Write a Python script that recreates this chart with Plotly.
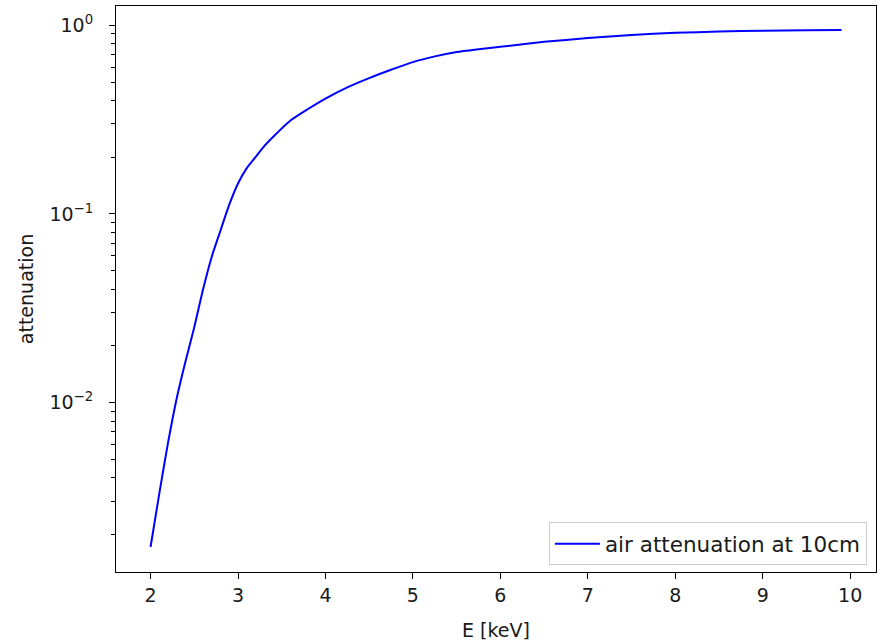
import plotly.graph_objects as go

# Photon energy [keV] and transmitted fraction through 10 cm of air
energy_kev = [2.0, 2.1, 2.2, 2.3, 2.4, 2.5, 2.6, 2.7, 2.8, 2.9, 3.0, 3.1, 3.2, 3.3,
              3.4, 3.6, 3.8, 4.0, 4.25, 4.5, 4.75, 5.0, 5.25, 5.5, 5.75, 6.0,
              6.5, 7.0, 7.5, 8.0, 8.5, 9.0, 9.5, 9.9]
attenuation = [0.00172, 0.0033, 0.00614, 0.0106, 0.0166, 0.0251, 0.0398, 0.0594,
               0.0818, 0.112, 0.145, 0.175, 0.200, 0.229, 0.256, 0.313, 0.360,
               0.409, 0.469, 0.525, 0.581, 0.638, 0.684, 0.721, 0.746, 0.769,
               0.817, 0.855, 0.888, 0.912, 0.926, 0.936, 0.940, 0.944]

x_ticks = [2, 3, 4, 5, 6, 7, 8, 9, 10]
y_major = [0.01, 0.1, 1]
y_major_text = ["10<sup>\u22122</sup>", "10<sup>\u22121</sup>", "10<sup>0</sup>"]
y_minor = [m * d for d in (0.001, 0.01, 0.1) for m in range(2, 10)]

FONT = "DejaVu Sans"
TEXT_COLOR = "#1a1a1a"

fig = go.Figure()
fig.add_trace(go.Scatter(
    x=energy_kev, y=attenuation, mode="lines",
    name="air attenuation at 10cm",
    line=dict(color="#0000ff", width=2, shape="spline", smoothing=0.6),
))

axis_common = dict(
    showline=True, linecolor="black", linewidth=1, mirror=True,
    ticks="outside", ticklen=6, tickwidth=1, tickcolor="black",
    showgrid=False, zeroline=False,
    tickfont=dict(family=FONT, size=19, color=TEXT_COLOR),
)

fig.update_xaxes(
    **axis_common,
    range=[1.605, 10.295],
    tickmode="array", tickvals=x_ticks,
    title=dict(text="E [keV]", font=dict(family=FONT, size=19, color=TEXT_COLOR), standoff=18),
)
fig.update_yaxes(
    **axis_common,
    type="log",
    range=[-2.897, 0.102],
    tickmode="array", tickvals=y_major, ticktext=y_major_text,
    ticklabelstandoff=12,
    minor=dict(tickmode="array", tickvals=y_minor, ticks="outside",
               ticklen=4, tickwidth=1, tickcolor="black", showgrid=False),
    title=dict(text="attenuation", font=dict(family=FONT, size=19, color=TEXT_COLOR), standoff=10),
)

fig.update_layout(
    width=881, height=643,
    margin=dict(l=116, r=5, t=6, b=71),
    paper_bgcolor="white", plot_bgcolor="white",
    showlegend=True,
    legend=dict(
        x=0.988, y=0.012, xanchor="right", yanchor="bottom",
        bgcolor="rgba(255,255,255,0.8)", bordercolor="#cccccc", borderwidth=1,
        itemwidth=45,
        font=dict(family=FONT, size=21.5, color=TEXT_COLOR),
    ),
)

fig.write_html("out.html")
